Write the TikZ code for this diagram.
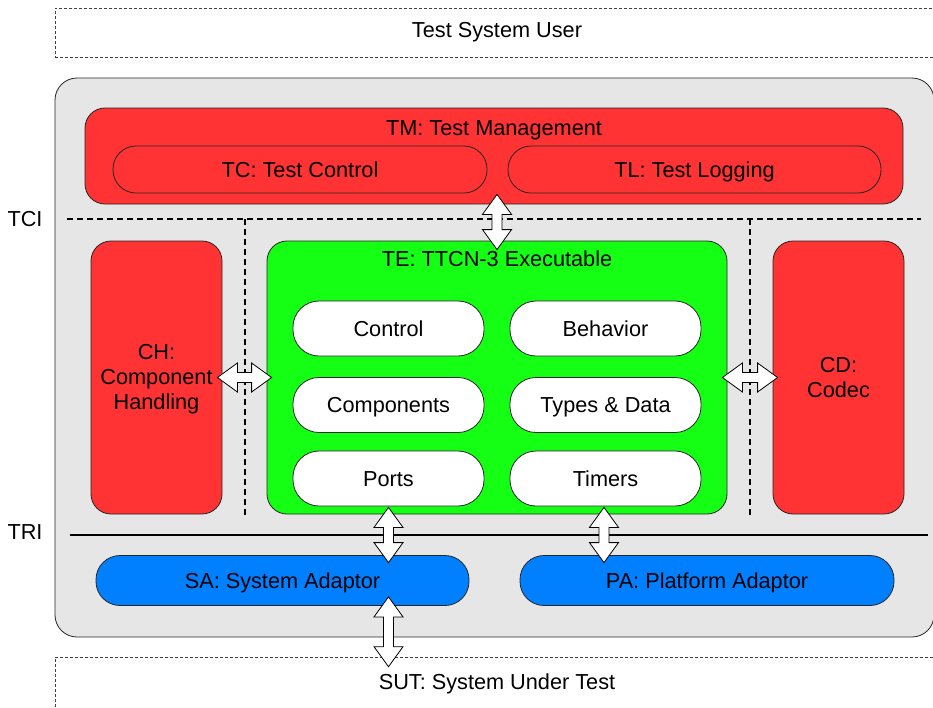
\documentclass[tikz,border=0pt]{standalone}
\usepackage{fontspec}
\setmainfont{Liberation Sans}
\usetikzlibrary{calc}
\definecolor{boxred}{RGB}{255,51,51}
\definecolor{boxgreen}{RGB}{20,255,20}
\definecolor{boxblue}{RGB}{0,128,255}
\definecolor{panel}{RGB}{230,230,230}

% double-headed block arrow between two named points
\newcommand\dblarrow[2]{%
  \draw[blockarrow] (#1)
    -- ($(#1)!20pt!(#2)!14.5pt!90:(#2)$)
    -- ($(#1)!20pt!(#2)!5pt!90:(#2)$)
    -- ($(#2)!20pt!(#1)!5pt!-90:(#1)$)
    -- ($(#2)!20pt!(#1)!14.5pt!-90:(#1)$)
    -- (#2)
    -- ($(#2)!20pt!(#1)!14.5pt!90:(#1)$)
    -- ($(#2)!20pt!(#1)!5pt!90:(#1)$)
    -- ($(#1)!20pt!(#2)!5pt!-90:(#2)$)
    -- ($(#1)!20pt!(#2)!14.5pt!-90:(#2)$)
    -- cycle;}

\begin{document}
\begin{tikzpicture}[x=1pt,y=-1pt,
  font=\fontsize{21.7}{25}\selectfont,
  oneline/.style={text height=15.5pt, text depth=0pt},
  box/.style={draw=black!85, line width=0.8pt, rounded corners=20pt,
    align=center, inner sep=0pt, minimum width=#1},
  redbox/.style={box=#1, fill=boxred},
  pillred/.style={redbox=#1, oneline, rounded corners=23pt, minimum height=47pt},
  whitepill/.style={box=#1, oneline, fill=white, rounded corners=26pt, minimum height=55pt},
  bluepill/.style={box=#1, oneline, fill=boxblue, rounded corners=24pt, minimum height=50pt},
  userbox/.style={draw=black!75, line width=0.6pt, dash pattern=on 3pt off 2pt,
    inner sep=0pt, minimum width=#1},
  tcline/.style={line width=1.6pt, dash pattern=on 6pt off 4pt},
  triline/.style={line width=1.6pt},
  blockarrow/.style={draw=black, line width=0.8pt, fill=white, line join=miter},
  lbl/.style={inner sep=0pt, oneline}]
\useasboundingbox (0,0) rectangle (933,707);
\clip (0,0) rectangle (933,707);

% environment boxes
\node[userbox=884pt, minimum height=49pt] (TSU) at (497,32.5) {};
\node[lbl] (TSUlabel) at (497,30) {Test System User};
\node[userbox=884pt, minimum height=80pt] (SUT) at (497,697) {};
\node[lbl] (SUTlabel) at (497,682) {SUT: System Under Test};

% test system panel
\node[box=879pt, fill=panel, minimum height=559pt, rounded corners=22pt] (TS) at (494.5,357.5) {};

% test management
\node[redbox=818pt, minimum height=96pt] (TM) at (494,156) {};
\node[lbl] (TMlabel) at (494,128) {TM: Test Management};
\node[pillred=374pt] (TC) at (300,169.5) {TC: Test Control};
\node[pillred=373pt] (TL) at (694.5,169.5) {TL: Test Logging};

% interface separators
\draw[tcline] (67,219) -- (921,219);
\draw[tcline] (245,219) -- (245,515);
\draw[tcline] (750,219) -- (750,515);
\draw[triline] (70,535) -- (928,535);
\node[lbl] (TCI) at (25,219) {TCI};
\node[lbl] (TRI) at (25,532) {TRI};

% component handling and codec
\node[redbox=131pt, minimum height=273pt] (CH) at (156.5,377.5) {};
\node[inner sep=0pt, align=center] (CHlabel) at (156.5,379.5) {CH:\\Component\\Handling};
\node[redbox=131pt, minimum height=273pt] (CD) at (838.5,377.5) {};
\node[inner sep=0pt, align=center] (CDlabel) at (838.5,377.5) {CD:\\Codec};

% executable
\node[box=460pt, fill=boxgreen, minimum height=273pt] (TE) at (497,377.5) {};
\node[lbl] (TElabel) at (497,259) {TE: TTCN-3 Executable};
\node[whitepill=191pt] (Control) at (388.5,328.5) {Control};
\node[whitepill=191pt] (Behavior) at (605.5,328.5) {Behavior};
\node[whitepill=191pt] (Components) at (388.5,405) {Components};
\node[whitepill=191pt] (Types) at (605.5,405) {Types \& Data};
\node[whitepill=191pt] (Ports) at (388.5,478.5) {Ports};
\node[whitepill=191pt] (Timers) at (605.5,478.5) {Timers};

% adaptors
\node[bluepill=373pt] (SA) at (282.5,580.5) {SA: System Adaptor};
\node[bluepill=374pt] (PA) at (707,580.5) {PA: Platform Adaptor};

% arrow end points
\coordinate (tciTop) at ($(TE.north |- TC.south)+(0,1)$);
\coordinate (tciBot) at ($(TE.north)+(0,9)$);
\coordinate (chEnd) at ($(CH.east)+(-5,0)$);
\coordinate (teWest) at ($(TE.west)+(5,0)$);
\coordinate (teEast) at ($(TE.east)+(-5,0)$);
\coordinate (cdEnd) at ($(CD.west)+(5,0)$);
\coordinate (portsEnd) at ($(Ports.south)+(0,1)$);
\coordinate (saTop) at ($(Ports.south |- SA.north)+(0,7.5)$);
\coordinate (timersEnd) at ($(Timers.south)+(-1.5,1)$);
\coordinate (paTop) at ($(Timers.south |- PA.north)+(-1.5,7.5)$);
\coordinate (saBot) at ($(Ports.south |- SA.south)+(0,-9)$);
\coordinate (sutTop) at ($(Ports.south |- SUT.north)+(0,10)$);

% interface arrows
\dblarrow{tciTop}{tciBot}
\dblarrow{chEnd}{teWest}
\dblarrow{teEast}{cdEnd}
\dblarrow{portsEnd}{saTop}
\dblarrow{timersEnd}{paTop}
\dblarrow{saBot}{sutTop}
\end{tikzpicture}
\end{document}
